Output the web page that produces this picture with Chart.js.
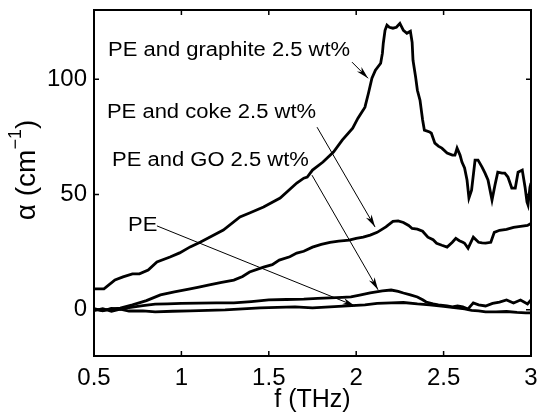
<!DOCTYPE html>
<html>
<head>
<meta charset="utf-8">
<script src="https://cdn.jsdelivr.net/npm/chart.js@4.4.0/dist/chart.umd.min.js"></script>
<style>
  html, body { margin: 0; padding: 0; background: #fff; }
  canvas { display: block; }
</style>
</head>
<body>
<canvas id="myChart" width="539" height="417"></canvas>
<script>
// frequency (THz) and absorption coefficient (cm^-1)
var graphiteF = [0.50, 0.51, 0.557, 0.62, 0.666, 0.72, 0.76, 0.81, 0.86, 0.935,
                 0.99, 1.05, 1.11, 1.175, 1.24, 1.335, 1.39, 1.47, 1.565, 1.66,
                 1.70, 1.72, 1.75, 1.81, 1.87, 1.92, 1.98, 2.01, 2.04, 2.05,
                 2.07, 2.09, 2.11, 2.14, 2.15, 2.155, 2.165, 2.176, 2.19, 2.21,
                 2.23, 2.25, 2.27, 2.29, 2.31, 2.32, 2.325, 2.34, 2.35, 2.365,
                 2.38, 2.39, 2.42, 2.43, 2.45, 2.47, 2.49, 2.52, 2.55, 2.565,
                 2.577, 2.594, 2.605, 2.62, 2.634, 2.645, 2.66, 2.68, 2.697, 2.72,
                 2.737, 2.754, 2.777, 2.794, 2.81, 2.834, 2.85, 2.868, 2.89, 2.91,
                 2.926, 2.95, 2.966, 2.977, 2.983, 2.994, 3.00];
var graphiteA = [9.1, 9.1, 9.1, 13.0, 14.3, 15.6, 15.6, 17.3, 20.8, 22.9,
                 24.7, 27.3, 29.4, 32.0, 34.6, 40.3, 42.0, 44.6, 48.5, 55.0,
                 57.1, 57.6, 60.6, 64.1, 68.4, 73.6, 78.8, 83.1, 86.6, 87.9,
                 93.9, 100.4, 103.9, 106.9, 111.3, 115.6, 121.2, 123.4, 122.5, 122.1,
                 122.5, 124.2, 121.2, 119.9, 120.8, 116.0, 108.2, 100.9, 95.2, 90.9,
                 82.3, 77.9, 77.1, 76.6, 72.3, 71.0, 70.1, 68.0, 67.1, 67.1,
                 70.1, 67.1, 64.1, 61.5, 56.3, 48.5, 51.9, 64.9, 64.9, 61.9,
                 59.3, 56.3, 47.6, 54.1, 59.7, 59.3, 59.3, 57.6, 52.8, 52.8,
                 59.7, 60.6, 53.2, 46.8, 45.5, 53.2, 55.0];

var cokeF = [0.50, 0.55, 0.60, 0.65, 0.72, 0.80, 0.88, 0.96, 1.05, 1.10,
             1.16, 1.23, 1.30, 1.35, 1.39, 1.47, 1.52, 1.56, 1.62, 1.66,
             1.70, 1.75, 1.80, 1.85, 1.90, 1.96, 2.00, 2.04, 2.08, 2.12,
             2.17, 2.21, 2.24, 2.27, 2.30, 2.32, 2.35, 2.38, 2.41, 2.44,
             2.46, 2.49, 2.52, 2.55, 2.57, 2.59, 2.61, 2.62, 2.64, 2.67,
             2.70, 2.72, 2.74, 2.77, 2.79, 2.82, 2.86, 2.90, 2.94, 2.98,
             3.00];
var cokeA = [0.3, -0.3, 0.4, 0.8, 2.2, 4.0, 6.5, 7.8, 9.1, 9.9,
             10.8, 11.9, 12.9, 14.5, 16.4, 18.5, 19.6, 21.6, 23.0, 24.6,
             25.4, 27.2, 28.4, 29.3, 29.8, 30.2, 31.0, 31.5, 32.4, 33.6,
             36.0, 38.4, 38.6, 37.9, 36.6, 35.3, 35.0, 34.1, 31.5, 30.4,
             28.9, 28.0, 27.2, 29.3, 31.0, 30.0, 29.3, 28.9, 26.7, 31.5,
             29.3, 29.0, 28.9, 29.3, 33.6, 34.5, 34.9, 35.8, 36.2, 36.6,
             37.5];

var goF = [0.50, 0.55, 0.60, 0.65, 0.70, 0.78, 0.85, 0.92, 1.00, 1.10,
           1.20, 1.30, 1.40, 1.50, 1.60, 1.70, 1.78, 1.85, 1.92, 1.97,
           2.02, 2.08, 2.15, 2.20, 2.24, 2.27, 2.31, 2.35, 2.38, 2.40,
           2.44, 2.47, 2.52, 2.55, 2.58, 2.61, 2.64, 2.67, 2.70, 2.74,
           2.78, 2.82, 2.86, 2.90, 2.94, 2.98, 3.00];
var goA = [0.5, -0.4, 0.6, 0.2, 1.0, 1.8, 2.5, 2.6, 2.8, 2.9,
           3.0, 3.0, 3.6, 4.3, 4.5, 4.7, 5.0, 5.2, 5.4, 5.6,
           6.4, 7.4, 8.2, 8.6, 8.0, 7.3, 6.5, 5.6, 4.4, 3.4,
           2.6, 2.2, 1.7, 1.3, 1.7, 1.3, 0.4, 3.0, 2.2, 1.7,
           2.8, 3.4, 4.3, 3.0, 4.3, 2.6, 4.3];

var peF = [0.50, 0.55, 0.60, 0.65, 0.70, 0.78, 0.85, 0.95, 1.05, 1.15,
           1.25, 1.35, 1.45, 1.55, 1.65, 1.75, 1.85, 1.95, 2.05, 2.12,
           2.20, 2.27, 2.35, 2.42, 2.50, 2.56, 2.62, 2.66, 2.70, 2.74,
           2.80, 2.86, 2.92, 2.97, 3.00];
var peA = [-0.3, 0.5, -0.6, 0.3, -0.5, -0.4, -0.9, -0.6, -0.4, -0.2,
           0.0, 0.4, 0.9, 1.1, 1.3, 0.9, 1.3, 1.7, 2.2, 2.8,
           3.0, 3.2, 2.6, 2.2, 1.5, 1.0, 0.4, -0.2, -0.4, -0.9,
           -0.9, -0.7, -1.1, -1.3, -1.3];

var xTicks = [0.5, 1, 1.5, 2, 2.5, 3];
var xTickLabels = ['0.5', '1', '1.5', '2', '2.5', '3'];
var yTicks = [0, 50, 100];
var yTickLabels = ['0', '50', '100'];

// text labels with arrows (anchor in data units)
var labelNames = ['PE and graphite 2.5 wt%', 'PE and coke 2.5 wt%', 'PE and GO 2.5 wt%', 'PE'];
var labelAt = [[0.58, 112.6], [0.574, 85.7], [0.603, 64.9], [0.695, 36.4]];
var arrowLines = [[1.976, 107.4, 2.068, 100.4],
                  [1.776, 79.2, 2.108, 35.9],
                  [1.747, 58.4, 2.125, 8.7],
                  [0.86, 36.4, 1.993, 1.7]];

function toPoints(f, a) {
  var pts = [];
  for (var i = 0; i < f.length; i++) pts.push({x: f[i], y: a[i]});
  return pts;
}

var FONT = '"Liberation Sans", Arial, Helvetica, sans-serif';

function lineSet(f, a) {
  return {
    data: toPoints(f, a),
    borderColor: '#000',
    borderWidth: 2.8,
    pointRadius: 0,
    tension: 0,
    fill: false
  };
}

var frame = {
  id: 'frame',
  afterDraw: function(chart) {
    var ctx = chart.ctx, a = chart.chartArea;
    var xs = chart.scales.x, ys = chart.scales.y;
    ctx.save();
    ctx.strokeStyle = '#000';
    ctx.lineWidth = 2;
    ctx.strokeRect(a.left, a.top, a.right - a.left, a.bottom - a.top);
    ctx.lineWidth = 1.5;
    ctx.beginPath();
    xTicks.forEach(function(v) {
      var px = xs.getPixelForValue(v);
      ctx.moveTo(px, a.bottom); ctx.lineTo(px, a.bottom - 5);
      ctx.moveTo(px, a.top); ctx.lineTo(px, a.top + 5);
    });
    yTicks.forEach(function(v) {
      var py = ys.getPixelForValue(v);
      ctx.moveTo(a.left, py); ctx.lineTo(a.left + 5, py);
      ctx.moveTo(a.right, py); ctx.lineTo(a.right - 5, py);
    });
    ctx.stroke();

    // annotations
    ctx.fillStyle = '#000';
    ctx.textBaseline = 'middle';
    ctx.font = '20px ' + FONT;
    labelNames.forEach(function(t, i) {
      ctx.save();
      ctx.translate(xs.getPixelForValue(labelAt[i][0]), ys.getPixelForValue(labelAt[i][1]));
      ctx.scale(1.1, 1);
      ctx.fillText(t, 0, 0);
      ctx.restore();
    });
    ctx.lineWidth = 1;
    arrowLines.forEach(function(l) {
      var x0 = xs.getPixelForValue(l[0]), y0 = ys.getPixelForValue(l[1]);
      var x1 = xs.getPixelForValue(l[2]), y1 = ys.getPixelForValue(l[3]);
      var ang = Math.atan2(y1 - y0, x1 - x0);
      ctx.beginPath();
      ctx.moveTo(x0, y0); ctx.lineTo(x1, y1);
      ctx.stroke();
      ctx.beginPath();
      ctx.moveTo(x1 - 13 * Math.cos(ang - 0.25), y1 - 13 * Math.sin(ang - 0.25));
      ctx.lineTo(x1, y1);
      ctx.lineTo(x1 - 13 * Math.cos(ang + 0.25), y1 - 13 * Math.sin(ang + 0.25));
      ctx.lineTo(x1 - 9 * Math.cos(ang), y1 - 9 * Math.sin(ang));
      ctx.closePath();
      ctx.fill();
    });

    // axis titles
    ctx.textAlign = 'center';
    ctx.font = '25px ' + FONT;
    ctx.fillText('f (THz)', (a.left + a.right) / 2, 400);

    ctx.save();
    ctx.translate(27, 170);
    ctx.rotate(-Math.PI / 2);
    ctx.textAlign = 'left';
    var big = '28px ' + FONT, small = '18px ' + FONT;
    ctx.font = big;
    var w1 = ctx.measureText('\u03b1 (cm').width, w3 = ctx.measureText(')').width;
    ctx.font = small;
    var w2 = ctx.measureText('\u22121').width;
    var x = -(w1 + w2 + w3) / 2;
    ctx.font = big;
    ctx.fillText('\u03b1 (cm', x, 0);
    ctx.font = small;
    ctx.fillText('\u22121', x + w1, -11);
    ctx.font = big;
    ctx.fillText(')', x + w1 + w2, 0);
    ctx.restore();
    ctx.restore();
  }
};

new Chart(document.getElementById('myChart').getContext('2d'), {
  type: 'line',
  data: {
    datasets: [lineSet(graphiteF, graphiteA), lineSet(cokeF, cokeA), lineSet(goF, goA), lineSet(peF, peA)]
  },
  options: {
    responsive: false,
    devicePixelRatio: 1,
    animation: false,
    layout: { padding: { left: 0, top: 10, right: 8, bottom: 0 } },
    plugins: { legend: { display: false }, tooltip: { enabled: false } },
    scales: {
      x: {
        type: 'linear',
        min: 0.5, max: 3,
        grid: { display: false, drawTicks: false },
        border: { display: false },
        afterFit: function(s) { s.height = 61; s.paddingLeft = 0; s.paddingRight = 0; },
        afterBuildTicks: function(s) { s.ticks = xTicks.map(function(v) { return {value: v}; }); },
        ticks: {
          padding: 8,
          color: '#000',
          font: { size: 24, family: FONT },
          maxRotation: 0,
          callback: function(v) { return xTickLabels[xTicks.indexOf(v)]; }
        }
      },
      y: {
        min: -20, max: 130,
        grid: { display: false, drawTicks: false },
        border: { display: false },
        afterFit: function(s) { s.width = 94; s.paddingTop = 0; s.paddingBottom = 0; },
        afterBuildTicks: function(s) { s.ticks = yTicks.map(function(v) { return {value: v}; }); },
        ticks: {
          padding: 7,
          color: '#000',
          font: { size: 24, family: FONT },
          callback: function(v) { return yTickLabels[yTicks.indexOf(v)]; }
        }
      }
    }
  },
  plugins: [frame]
});
</script>
</body>
</html>
